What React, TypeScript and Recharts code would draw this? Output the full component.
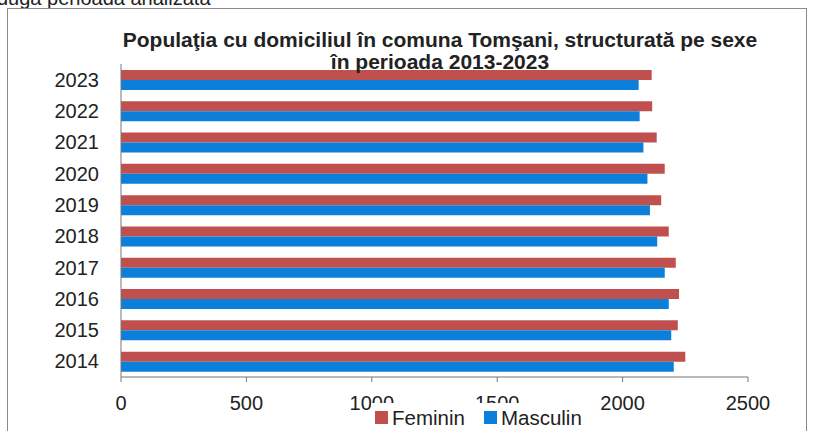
import React from "react";
import { BarChart, Bar, XAxis, YAxis } from "recharts";

// years top to bottom, as in the picture
const years = ["2023", "2022", "2021", "2020", "2019", "2018", "2017", "2016", "2015", "2014"];
const feminin = [2116, 2118, 2136, 2168, 2154, 2184, 2212, 2225, 2220, 2250];
const masculin = [2064, 2068, 2083, 2099, 2109, 2138, 2168, 2184, 2194, 2204];
const xTicks = [0, 500, 1000, 1500, 2000, 2500];

const RED = "#c0504d";
const BLUE = "#0b7fd9";
const FONT = "'Liberation Sans', Arial, sans-serif";

const data = years.map((y, i) => ({
  year: y,
  Feminin: feminin[i],
  Masculin: masculin[i],
}));

// legend box sits over the x tick labels, like in the scan
function LegendBox() {
  const item = (color: string, label: string, gap: number) => (
    <span style={{ display: "inline-flex", alignItems: "center", marginRight: gap }}>
      <span style={{ width: 13, height: 13, background: color, display: "inline-block", marginRight: 4 }} />
      <span>{label}</span>
    </span>
  );
  return (
    <div
      style={{
        position: "absolute",
        left: 371,
        top: 403,
        height: 30,
        background: "#fff",
        fontFamily: FONT,
        fontSize: 20.5,
        color: "#222",
        padding: "0 4px",
        lineHeight: "27px",
        whiteSpace: "nowrap",
      }}
    >
      {item(RED, "Feminin", 19)}
      {item(BLUE, "Masculin", 0)}
    </div>
  );
}

export default function App() {
  return (
    <div
      style={{
        position: "absolute",
        left: 0,
        top: 0,
        width: 815,
        height: 431,
        overflow: "hidden",
        background: "#fff",
      }}
    >
      {/* cut-off line of the scanned page above the chart */}
      <div
        style={{
          position: "absolute",
          left: -3,
          top: -13,
          fontFamily: FONT,
          fontSize: 20,
          lineHeight: "22px",
          color: "#222",
        }}
      >
        dugă perioada analizată
      </div>
      {/* chart frame */}
      <div
        style={{
          position: "absolute",
          left: 7,
          top: 8,
          width: 800,
          height: 440,
          border: "1px solid #8a8a8a",
          boxSizing: "border-box",
        }}
      />
      <div style={{ position: "absolute", left: 0, top: 0 }}>
        <BarChart
          width={815}
          height={431}
          data={data}
          layout="vertical"
          margin={{ top: 64, right: 67, left: 10, bottom: 24 }}
          barCategoryGap="19%"
          barGap={0}
        >
          <XAxis
            type="number"
            domain={[0, 2500]}
            ticks={xTicks}
            tick={{ fill: "#222", fontSize: 20, fontFamily: FONT }}
            axisLine={{ stroke: "#777" }}
            tickLine={{ stroke: "#777" }}
            tickSize={5}
            tickMargin={14}
            height={30}
          />
          <YAxis
            type="category"
            dataKey="year"
            width={111}
            tick={{ fill: "#222", fontSize: 20, fontFamily: FONT }}
            axisLine={{ stroke: "#777" }}
            tickLine={false}
            tickMargin={16}
          />
          <Bar dataKey="Feminin" fill={RED} isAnimationActive={false} />
          <Bar dataKey="Masculin" fill={BLUE} isAnimationActive={false} />
        </BarChart>
      </div>
      <LegendBox />
      {/* title drawn over the bars */}
      <div
        style={{
          position: "absolute",
          left: 0,
          width: 880,
          top: 29,
          textAlign: "center",
          fontFamily: FONT,
          fontWeight: "bold",
          fontSize: 21,
          lineHeight: "22px",
          color: "#222",
          pointerEvents: "none",
        }}
      >
        Populaţia cu domiciliul în comuna Tomşani, structurată pe sexe
        <br />
        în perioada 2013-2023
      </div>
    </div>
  );
}
